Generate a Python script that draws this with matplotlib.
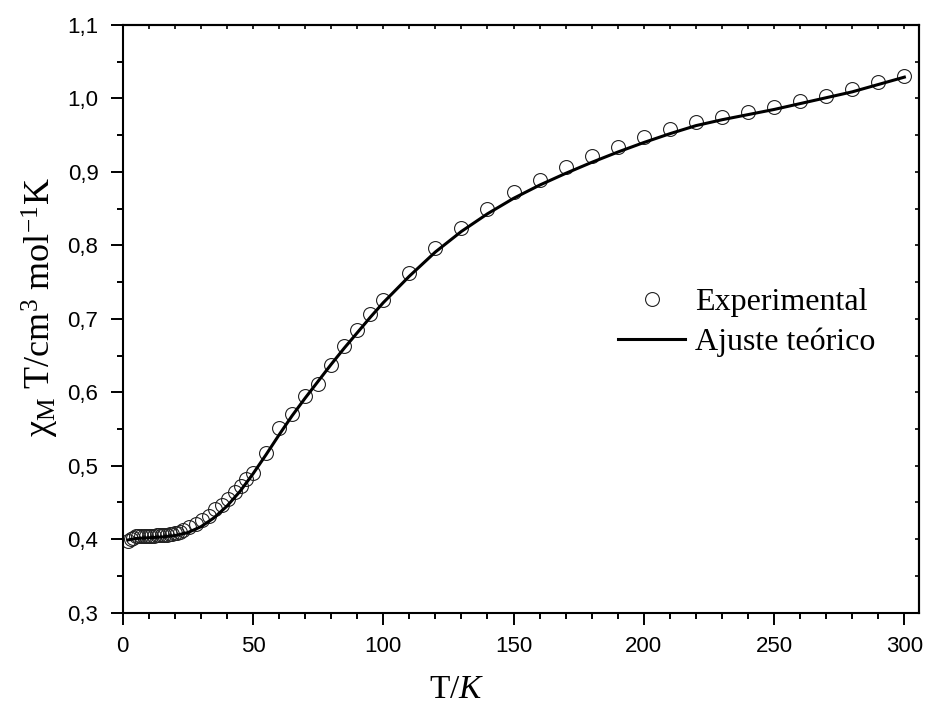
from matplotlib import pyplot as plt
from matplotlib.ticker import MultipleLocator, FuncFormatter
import numpy as np

plt.rcParams['mathtext.fontset'] = 'custom'
plt.rcParams['mathtext.rm'] = 'Liberation Serif'
plt.rcParams['mathtext.it'] = 'Liberation Serif:italic'

# experimental points (T in K, chi_M*T in cm3 mol-1 K)
T_exp = [2, 3, 4, 5, 6, 7, 8, 9, 10, 11, 12, 13, 14, 15, 16, 17, 18, 19, 20, 21, 22,
         23, 25.5, 28, 30.5, 33, 35.5, 38, 40.5, 43, 45.5, 47.5, 50,
         55, 60, 65, 70, 75, 80, 85, 90, 95, 100,
         110, 120, 130, 140, 150, 160, 170, 180, 190, 200,
         210, 220, 230, 240, 250, 260, 270, 280, 290, 300]
chiT_exp = [0.397, 0.400, 0.402, 0.404, 0.405, 0.405, 0.405, 0.405, 0.405, 0.405, 0.405,
            0.406, 0.406, 0.406, 0.406, 0.406, 0.407, 0.407, 0.408, 0.409, 0.410,
            0.413, 0.416, 0.421, 0.426, 0.432, 0.441, 0.447, 0.455, 0.464, 0.472, 0.482, 0.490,
            0.518, 0.551, 0.571, 0.595, 0.611, 0.637, 0.663, 0.685, 0.706, 0.726,
            0.763, 0.797, 0.824, 0.849, 0.872, 0.889, 0.907, 0.922, 0.934, 0.947,
            0.958, 0.968, 0.975, 0.982, 0.989, 0.997, 1.004, 1.013, 1.023, 1.030]

# theoretical fit
T_fit = [2, 5, 10, 15, 20, 25, 30, 35, 40, 45, 50, 55, 60, 65, 70, 75, 80, 85, 90, 95, 100,
         110, 120, 130, 140, 150, 160, 170, 180, 190, 200,
         210, 220, 230, 240, 250, 260, 270, 280, 290, 300]
chiT_fit = [0.399, 0.401, 0.402, 0.403, 0.405, 0.409, 0.417, 0.429, 0.445, 0.465, 0.489,
            0.515, 0.542, 0.568, 0.592, 0.615, 0.638, 0.660, 0.681, 0.702, 0.722,
            0.758, 0.791, 0.819, 0.843, 0.864, 0.882, 0.898, 0.913, 0.927, 0.940,
            0.952, 0.963, 0.971, 0.978, 0.985, 0.993, 1.001, 1.009, 1.019, 1.029]

fig = plt.figure(figsize=[9.26, 7.04], dpi=100)
ax = fig.add_axes([0.1325, 0.1297, 0.8596, 0.8348])

ax.plot(T_exp, chiT_exp, 'o', ms=10, markerfacecolor='none', markeredgecolor='#222222',
        markeredgewidth=0.8, label='Experimental', zorder=2)
ax.plot(T_fit, chiT_fit, '-', color='black', lw=2.2, label='Ajuste teórico', zorder=3)

ax.set_xlim(0, 305.5)
ax.set_ylim(0.3, 1.1)
ax.xaxis.set_major_locator(MultipleLocator(50))
ax.xaxis.set_minor_locator(MultipleLocator(10))
ax.yaxis.set_major_locator(MultipleLocator(0.1))
ax.yaxis.set_minor_locator(MultipleLocator(0.05))
ax.yaxis.set_major_formatter(FuncFormatter(lambda v, p: f"{v:.1f}".replace('.', ',')))

for s in ax.spines.values():
  s.set_linewidth(1.5)
ax.tick_params(which='major', direction='out', length=8.5, width=1.4)
ax.tick_params(which='minor', direction='out', length=4.3, width=1.4)
ax.tick_params(axis='x', which='major', pad=8)
ax.tick_params(axis='y', which='major', pad=9)
for lab in ax.get_xticklabels() + ax.get_yticklabels():
  lab.set_fontfamily('Liberation Sans')
  lab.set_fontsize(16)

# small inward ticks on the opposite spines
top = ax.secondary_xaxis('top')
top.xaxis.set_major_locator(MultipleLocator(50))
top.xaxis.set_minor_locator(MultipleLocator(10))
top.tick_params(which='both', direction='in', length=3, width=1.2, labeltop=False)
right = ax.secondary_yaxis('right')
right.yaxis.set_major_locator(MultipleLocator(0.1))
right.yaxis.set_minor_locator(MultipleLocator(0.05))
right.tick_params(which='both', direction='in', length=3, width=1.2, labelright=False)
for s in list(top.spines.values()) + list(right.spines.values()):
  s.set_linewidth(1.5)

ax.set_xlabel('T/$K$', family='Liberation Serif', fontsize=24)
ax.xaxis.set_label_coords(0.42, -0.105)
ax.set_ylabel(r'χ$_{\rm M}$ T/cm$^{3}$ mol$^{-1}$K', family='Liberation Serif', fontsize=26)
ax.yaxis.set_label_coords(-0.078, 0.52)

ax.legend(loc='upper left', bbox_to_anchor=(618 / 926, 1 - 288 / 704), bbox_transform=fig.transFigure,
          frameon=False, prop={'family': 'Liberation Serif', 'size': 23},
          handlelength=2.1, handletextpad=0.3, labelspacing=0.32, borderpad=0, borderaxespad=0)

plt.savefig('out.png', dpi=100)
